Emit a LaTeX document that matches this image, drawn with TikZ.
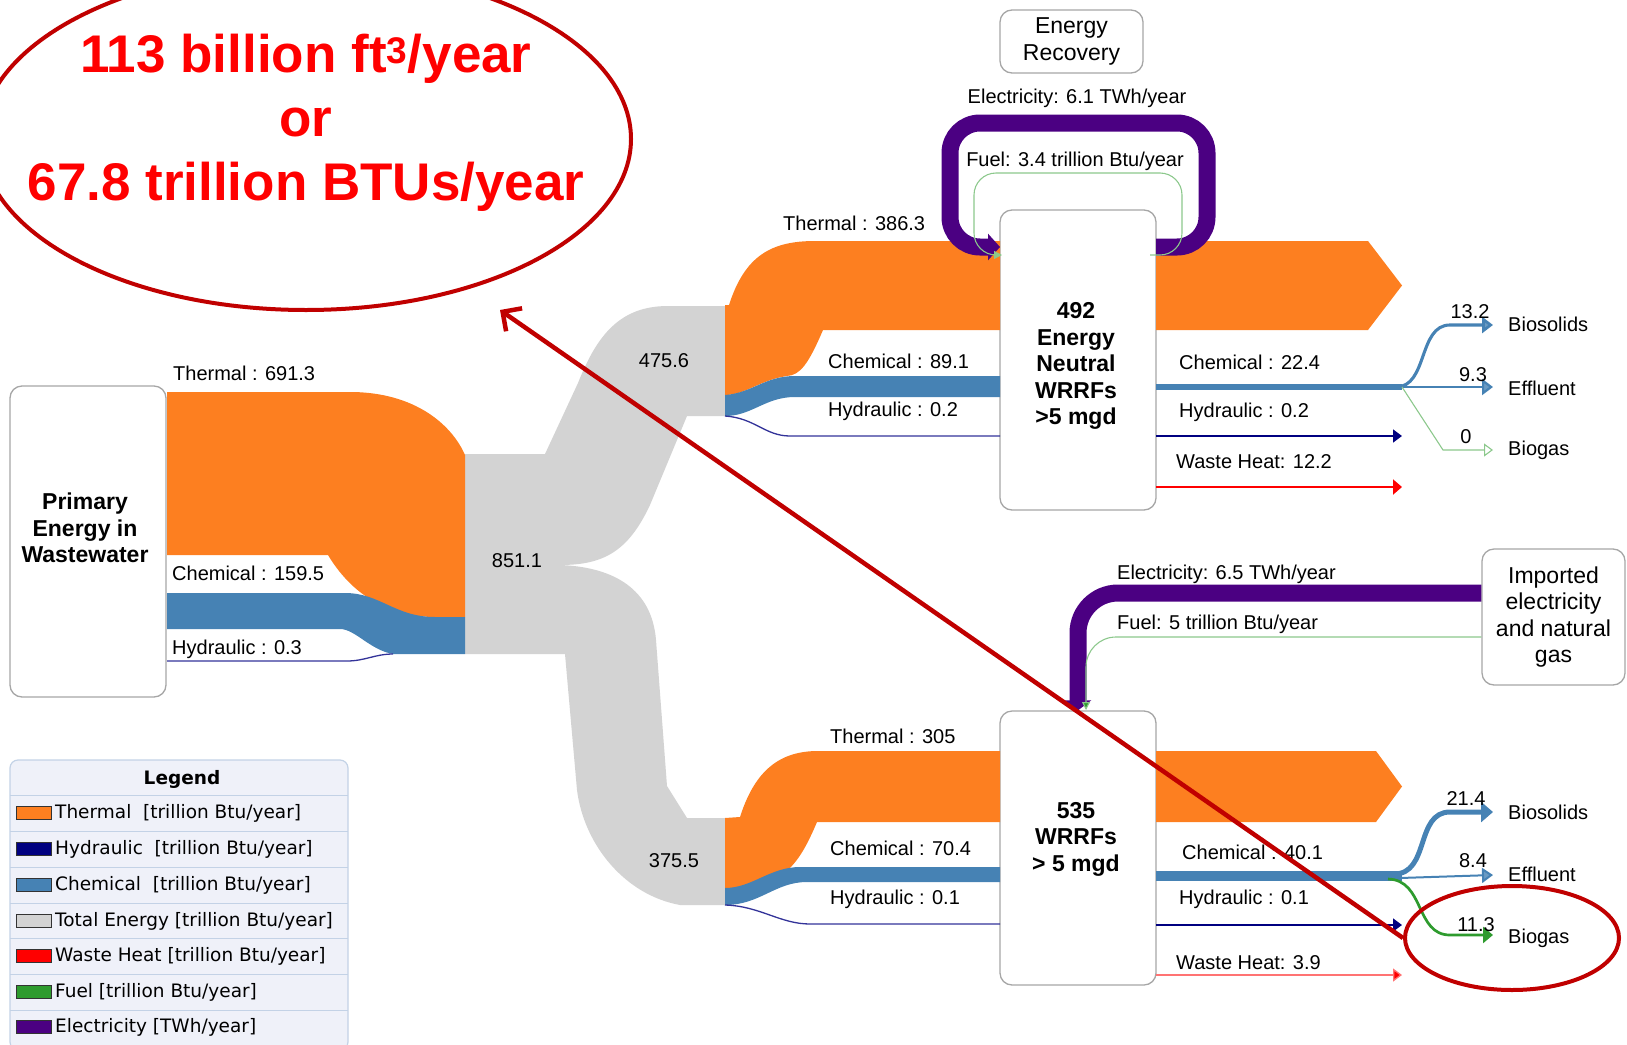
\documentclass[tikz,border=0pt]{standalone}
\usepackage{fontspec}
\setmainfont{Liberation Sans}
\newfontfamily\legfont{DejaVu Sans}
\usetikzlibrary{arrows.meta,shapes.geometric}
\definecolor{thermalcol}{HTML}{FD7F20}
\definecolor{chemcol}{HTML}{4682B4}
\definecolor{hydrocol}{HTML}{000080}
\definecolor{totalcol}{HTML}{D3D3D3}
\definecolor{wastecol}{HTML}{FF0000}
\definecolor{fuelcol}{HTML}{2E9B2E}
\definecolor{eleccol}{HTML}{4B0082}
\definecolor{annotcol}{HTML}{C00000}
\definecolor{legbg}{HTML}{EFF1F9}
\definecolor{legline}{HTML}{C3D2E6}
\begin{document}
\begin{tikzpicture}[x=1pt, y=-1pt,
    box/.style={draw=black!35, line width=1.3pt, rounded corners=12pt, fill=white},
    boxtext/.style={align=center, font=\fontsize{23}{26.5}\selectfont\bfseries},
    plaintext/.style={align=center, font=\fontsize{23}{26.5}\selectfont},
    lbl/.style={font=\fontsize{20}{24}\selectfont, inner sep=0pt},
    hydroline/.style={draw=hydrocol!80!white, line width=1.3pt},
    fuelthin/.style={draw=fuelcol!55!white, line width=1.1pt},
    elecband/.style={draw=eleccol, line width=17pt},
    swatch/.style={draw=black!80, line width=1pt, minimum width=35pt, minimum height=13pt, inner sep=0pt},
    legtext/.style={anchor=west, inner sep=0pt, font=\legfont\fontsize{18.5}{22}\selectfont}]
  \useasboundingbox (0,0) rectangle (1627,1044);

  % boxes
  \node[box, minimum width=156pt, minimum height=311pt] (primary) at (88,541.5) {};
  \node[boxtext] (primarytext) at (85,528) {Primary\\Energy in\\Wastewater};
  \node[box, minimum width=156pt, minimum height=300pt] (neutral) at (1078,360) {};
  \node[boxtext] (neutraltext) at (1076,366) {492\\Energy\\Neutral\\WRRFs\\>5 mgd};
  \node[box, minimum width=156pt, minimum height=274pt] (large) at (1078,848) {};
  \node[boxtext] (largetext) at (1076,839) {535\\WRRFs\\> 5 mgd};
  \node[box, plaintext, minimum width=143pt, minimum height=63pt] (recovery) at (1071.5,41.5) {Energy\\Recovery};
  \node[box, plaintext, minimum width=143pt, minimum height=136pt] (imported) at (1553.5,617) {Imported\\electricity\\and natural\\gas};

  % total energy
  \fill[totalcol] (465,454) -- (545,454) -- (578,383) .. controls (597,335) and (620,306) .. (668,306) -- (727,306) -- (727,416) -- (687,416) -- (650,505) .. controls (628,552) and (603,565) .. (560,565) .. controls (615,567) and (652,590) .. (656,640) -- (667,786) -- (687,818) -- (727,818) -- (727,905) -- (680,905) .. controls (625,895) and (584,845) .. (577,790) -- (565,654) -- (465,654) -- cycle;

  % from primary energy
  \fill[thermalcol] (167,392) -- (350,392) .. controls (415,392) and (452,425) .. (465,455) -- (465,617) -- (435,617) .. controls (395,617) and (355,600) .. (328,555) -- (167,555) -- cycle;
  \fill[chemcol] (167,593) -- (345,593) .. controls (380,593) and (395,617) .. (435,617) -- (465,617) -- (465,654) -- (393,654) .. controls (370,650) and (355,629) .. (340,629) -- (167,629) -- cycle;
  \draw[hydroline] (167,661) -- (347,661) .. controls (365,661) and (375,654) .. (393,654);

  % into energy neutral WRRFs
  \fill[thermalcol] (725,305) -- (729,305) .. controls (745,255) and (772,241) .. (815,241) -- (1000,241) -- (1000,330) -- (823,330) .. controls (808,365) and (800,375) .. (787,376) .. controls (760,380) and (745,395) .. (725,395) -- cycle;
  \fill[chemcol] (725,395) .. controls (752,393) and (765,376) .. (795,376) -- (1000,376) -- (1000,397) -- (795,397) .. controls (765,397) and (752,416) .. (725,416) -- cycle;
  \draw[hydroline] (725,416) .. controls (755,418) and (765,436) .. (790,436) -- (1000,436);

  % into large WRRFs
  \fill[thermalcol] (725,818) -- (740,817) .. controls (755,770) and (780,751) .. (818,751) -- (1000,751) -- (1000,822) -- (817,822) .. controls (800,862) and (785,885) .. (740,888) -- (725,888) -- cycle;
  \fill[chemcol] (725,888) .. controls (752,888) and (770,867) .. (800,867) -- (1000,867) -- (1000,882) -- (807,882) .. controls (775,882) and (760,905) .. (725,905) -- cycle;
  \draw[hydroline] (725,905) .. controls (760,906) and (780,924) .. (810,924) -- (1000,924);

  % thermal out
  \fill[thermalcol] (1156,241) -- (1368,241) -- (1402,285.5) -- (1368,330) -- (1156,330) -- cycle;
  \fill[thermalcol] (1156,751) -- (1376,751) -- (1402,786.5) -- (1376,822) -- (1156,822) -- cycle;

  % energy recovery loops
  \draw[elecband, rounded corners=30pt, -{Triangle[length=12pt,width=26pt]}] (1156,247) -- (1207,247) -- (1207,123) -- (950,123) -- (950,247) -- (1000,247);
  \draw[fuelthin, rounded corners=22pt, -{Triangle[length=8pt,width=8pt]}] (1150,255) -- (1182,255) -- (1182,173) -- (974,173) -- (974,255) -- (1002,255);
  \draw[elecband, rounded corners=40pt, -{Triangle[length=10pt,width=26pt]}] (imported.west |- 0,593) -- (1078,593) -- (large.north);
  \draw[fuelthin, rounded corners=30pt, -{Triangle[length=8pt,width=8pt, fill=fuelcol]}] (imported.west |- 0,637) -- (1086,637) -- (1086,710);

  % outputs of energy neutral WRRFs
  \draw[chemcol, line width=5.3pt] (1156,387) -- (1402,387);
  \draw[chemcol, line width=3.1pt, -{Triangle[length=11pt,width=16pt, fill=chemcol!80!white]}] (1396,387) .. controls (1428,387) and (1418,325) .. (1450,325) -- (1493,325);
  \draw[chemcol, line width=2.2pt, -{Triangle[length=11pt,width=16pt, fill=chemcol!80!white]}] (1396,387) -- (1493,387);
  \draw[fuelthin, -{Triangle[open, length=9pt,width=13pt]}] (1402,387) -- (1443,450) -- (1493,450);
  \draw[hydrocol, line width=1.5pt, -{Triangle[length=9pt,width=13pt]}] (1156,436) -- (1402,436);
  \draw[wastecol, line width=2pt, -{Triangle[length=9pt,width=15pt]}] (1156,487) -- (1402,487);

  % outputs of large WRRFs
  \draw[chemcol, line width=9.5pt] (1156,876) -- (1402,876);
  \draw[chemcol, line width=5pt, -{Triangle[length=12pt,width=20pt]}] (1394,874) .. controls (1430,874) and (1415,812) .. (1450,812) -- (1493,812);
  \draw[chemcol, line width=2pt, -{Triangle[length=11pt,width=15pt, fill=chemcol!80!white]}] (1400,878) -- (1493,875);
  \draw[fuelcol, line width=2.7pt, -{Triangle[length=10pt,width=16pt]}] (1388,879) .. controls (1425,880) and (1415,935) .. (1450,935) -- (1493,935);
  \draw[hydrocol, line width=1.5pt, -{Triangle[length=9pt,width=13pt]}] (1156,925) -- (1402,925);
  \draw[wastecol!55!white, line width=1.3pt, -{Triangle[length=9pt,width=13pt, fill=wastecol]}] (1156,975) -- (1402,975);

  % labels
  \node[lbl, anchor=west] (lthermalA) at (173,373) {Thermal : 691.3};
  \node[lbl, anchor=west] (lchemA) at (172,573) {Chemical : 159.5};
  \node[lbl, anchor=west] (lhydroA) at (172,649) {Hydraulic : 0.3};
  \node[lbl] (ltotal) at (517,561) {851.1};
  \node[lbl] (ltotalB) at (664,361) {475.6};
  \node[lbl] (ltotalC) at (674,861) {375.5};
  \node[lbl, anchor=west] (lthermalB) at (783,223) {Thermal : 386.3};
  \node[lbl, anchor=west] (lchemB) at (828,361) {Chemical : 89.1};
  \node[lbl, anchor=west] (lhydroB) at (828,411) {Hydraulic : 0.2};
  \node[lbl, anchor=west] (lthermalC) at (830,736) {Thermal : 305};
  \node[lbl, anchor=west] (lchemC) at (830,848) {Chemical : 70.4};
  \node[lbl, anchor=west] (lhydroC) at (830,899) {Hydraulic : 0.1};
  \node[lbl] (lelecA) at (1077,98) {Electricity: 6.1 TWh/year};
  \node[lbl] (lfuelA) at (1075,161) {Fuel: 3.4 trillion Btu/year};
  \node[lbl, anchor=west] (lelecB) at (1117,574) {Electricity: 6.5 TWh/year};
  \node[lbl, anchor=west] (lfuelB) at (1117,624) {Fuel: 5 trillion Btu/year};
  \node[lbl, anchor=west] (lchemD) at (1179,362) {Chemical : 22.4};
  \node[lbl, anchor=west] (lhydroD) at (1179,412) {Hydraulic : 0.2};
  \node[lbl, anchor=west] (lwasteD) at (1176,462) {Waste Heat: 12.2};
  \node[lbl, anchor=west] (lchemE) at (1182,852) {Chemical : 40.1};
  \node[lbl, anchor=west] (lhydroE) at (1179,899) {Hydraulic : 0.1};
  \node[lbl, anchor=west] (lwasteE) at (1176,963) {Waste Heat: 3.9};
  \node[lbl] (vbiosolidsA) at (1470,312) {13.2};
  \node[lbl] (veffluentA) at (1473,375) {9.3};
  \node[lbl] (vbiogasA) at (1466,437) {0};
  \node[lbl] (vbiosolidsB) at (1466,799) {21.4};
  \node[lbl] (veffluentB) at (1473,861) {8.4};
  \node[lbl] (vbiogasB) at (1476,925) {11.3};
  \node[lbl, anchor=west] (biosolidsA) at (1508,324) {Biosolids};
  \node[lbl, anchor=west] (effluentA) at (1508,388) {Effluent};
  \node[lbl, anchor=west] (biogasA) at (1508,450) {Biogas};
  \node[lbl, anchor=west] (biosolidsB) at (1508,812) {Biosolids};
  \node[lbl, anchor=west] (effluentB) at (1508,874) {Effluent};
  \node[lbl, anchor=west] (biogasB) at (1508,938) {Biogas};

  % legend
  \node[draw=legline, fill=legbg, line width=1.2pt, rounded corners=8pt, minimum width=338pt, minimum height=290pt] (legend) at (179,905) {};
  \node[font=\legfont\fontsize{18.5}{22}\selectfont\bfseries] (legtitle) at (182,779) {Legend};
  \draw[legline, line width=1pt] (10,795) -- (348,795) (10,831) -- (348,831) (10,867) -- (348,867) (10,903) -- (348,903) (10,938) -- (348,938) (10,974) -- (348,974) (10,1010) -- (348,1010);
  \node[swatch, fill=thermalcol] (swthermal) at (33.5,813) {};
  \node[legtext] (legthermal) at (55,813) {Thermal\ \ [trillion Btu/year]};
  \node[swatch, fill=hydrocol] (swhydro) at (33.5,849) {};
  \node[legtext] (leghydro) at (55,849) {Hydraulic\ \ [trillion Btu/year]};
  \node[swatch, fill=chemcol] (swchem) at (33.5,885) {};
  \node[legtext] (legchem) at (55,885) {Chemical\ \ [trillion Btu/year]};
  \node[swatch, fill=totalcol] (swtotal) at (33.5,921) {};
  \node[legtext] (legtotal) at (55,921) {Total Energy [trillion Btu/year]};
  \node[swatch, fill=wastecol] (swwaste) at (33.5,956) {};
  \node[legtext] (legwaste) at (55,956) {Waste Heat [trillion Btu/year]};
  \node[swatch, fill=fuelcol] (swfuel) at (33.5,992) {};
  \node[legtext] (legfuel) at (55,992) {Fuel [trillion Btu/year]};
  \node[swatch, fill=eleccol] (swelec) at (33.5,1027) {};
  \node[legtext] (legelec) at (55,1027) {Electricity [TWh/year]};

  % annotation
  \node[draw=annotcol, line width=4pt, ellipse, minimum width=650pt, minimum height=342pt] (claim) at (306,139) {};
  \node[align=center, text=red, font=\fontsize{53}{64}\selectfont\bfseries] (claimtext) at (306,123) {113 billion ft\textsuperscript{3}/year\\or\\67.8 trillion BTUs/year};
  \node[draw=annotcol, line width=4pt, ellipse, minimum width=214pt, minimum height=104pt] (biogasring) at (1512,938) {};
  \coordinate (claimtip) at (500,310);
  \draw[annotcol, line width=4.5pt, -{Straight Barb[length=14pt,width=28pt]}] (biogasring.west) -- (claimtip);
\end{tikzpicture}
\end{document}
